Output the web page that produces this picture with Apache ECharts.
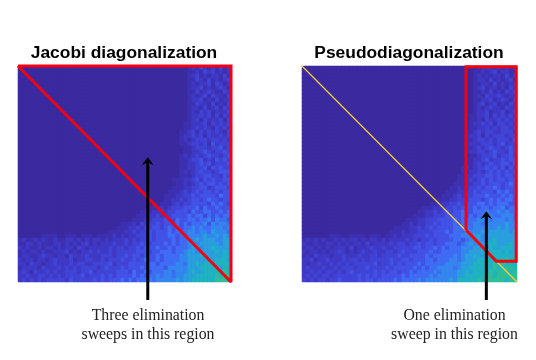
<!DOCTYPE html>
<html>
<head>
<meta charset="utf-8">
<style>html,body{margin:0;background:#fff;}#main{width:536px;height:360px;}</style>
<script src="https://cdn.jsdelivr.net/npm/echarts@6/dist/echarts.min.js"></script>
</head>
<body>
<div id="main"></div>
<script>
// matrix magnitudes, 0-9. Rows are right aligned, missing cells on the left are 0
var jacobiRows = [
'012132121312','011213231212','012312122131','011321312123','012122313212','012231212321',
'011312321132','012123132213','012231213122','011322131213','012213123132','012132312223',
'0012232313132','0012313222313','0112223132323','0112323213232',
'01123132323213','01223231322323','01212333233232','01123323142333','00112333233423',
'00112234323343','01212323433234','01123342324343','01122343423334',
'001122334243433','001212343323444','001112334433243','0111223424343344','0011212343443434',
'00111223344234443','001112323434434344','0011122334344443544','00011223234434544344',
'000111232334444354543','00111212333444535445444','0011122323344435445544545',
'00111223233444454553545455','001112233344354455455646554','01112132334344454545556465665',
'0011122323344345454556565566656','001111223233434445455566566576665',
'000000111100111011101111212122333434445545566667667676',
'121121211211221212122121222323233434444545566767776677',
'112212111221212123121222322323343344454545567677777677',
'212112122121221321222223233233434445445455567767787777',
'121221211222312122323223233333444344555455677677778787',
'122112322122132223222333233434434445455556677787777787',
'212212212322231223322323334334345445455556677777878887',
'221322122322232332233334233344444554555566577878878888',
'122221322232323233332343334344454555546666677788888788',
'232132232322333233423333344435445455566566678778888898',
'223223323232333342333434344445454556566566777888889899',
'232323233333243333343434445454555656666676778888889998'
];
var pseudoRows = [
'001122121212','011212312211','012121221312','012213121231','011221312122','012312212132',
'011213121323','012132232122','011223123213','012312312132','012123221322','012231223123',
'0112231323232','0112132232323','0122323133232','0112232323323',
'01123233223332','01223132333233','01123323233324','01222333234233','01123234332343',
'01223323433243','00112333423343','01122342334344','001123234334434',
'0012123343434243','0011223234343434','00112233344343443','000112323434344344','001112233434443454',
'0011212334344543444','00111223343444354544','001112323344454445454','0011122333444345454554',
'001112233434445545455544','00111222334344454554556455','001122323434454455565565655',
'0011122333444454545566556665','001112233344445455556665666565','0011212233434445455566566666766',
'01111223234344445556566676676766','0011121223333444545556666767777767',
'000000011100111101110112122233343444455566677677777777',
'121212112121221212212122223232334344445545667677877777',
'211211221212122131222232332334344344555456767778877787',
'122121212221312223223223333344344545455566677878778887',
'212212122321212322322332343334445445555566777878887878',
'121322212232223223323333433444454555556567787788888888',
'223122322232332323333343344344455455566567778888888988',
'212232232323233333423343434445455555666677788888989888',
'232223223233323343333434444454545566665677888888988998',
'223232332323433333434344344545555656666778788889899989',
'232323323333334343434444454555556566666778888899899999',
'323233233433334344344445455556566666676888889899999899'
];
var matrixSize = 54;
var jacobiOutline = [[0, 0], [54, 0], [54, 54], [0, 0]];
var pseudoOutline = [[41.2, 41], [41.2, 0.2], [53.8, 0.2], [53.8, 48.8], [48.8, 48.8], [41.2, 41]];
var pseudoDiagonal = [[0, 0], [54, 54]];
var jacobiArrow = [[32.9, 58.5], [32.9, 23.8]];
var pseudoArrow = [[46.3, 58.5], [46.3, 37.3]];
var parula = ['#3b2a9f', '#3d30b0', '#3f38c4', '#4044d6', '#4252e6', '#3f6cf4', '#3486ef', '#2a9fdf', '#1fb3c2', '#2fbc98'];

function toCells(rows) {
    var cells = [];
    rows.forEach(function (row, y) {
        var full = row.padStart(matrixSize, '0').slice(-matrixSize);
        for (var x = 0; x < matrixSize; x++) {
            cells.push([x, y, +full[x]]);
        }
    });
    return cells;
}

function arrowData(points) {
    return [
        { value: points[0], symbol: 'none' },
        { value: points[1], symbol: 'path://M6 0L12 7L6 4.5L0 7Z', symbolSize: [12, 8] }
    ];
}

var categories = [];
for (var i = 0; i < matrixSize; i++) categories.push(String(i));

function panelAxes(gridIndex) {
    return {
        x: [
            { type: 'category', gridIndex: gridIndex, data: categories, show: false },
            { type: 'value', gridIndex: gridIndex, min: 0, max: matrixSize, show: false }
        ],
        y: [
            { type: 'category', gridIndex: gridIndex, data: categories, inverse: true, show: false },
            { type: 'value', gridIndex: gridIndex, min: 0, max: matrixSize, inverse: true, show: false }
        ]
    };
}
var leftAxes = panelAxes(0);
var rightAxes = panelAxes(1);

function titleText(text, center, top) {
    return {
        text: text, left: center, top: top, textAlign: 'center', padding: 0,
        textStyle: { fontFamily: 'Liberation Sans', fontSize: 17.4, fontWeight: 'bold', color: '#000' }
    };
}
function noteText(text, center, top) {
    return {
        text: text, left: center, top: top, textAlign: 'center', padding: 0,
        textStyle: { fontFamily: 'Liberation Serif', fontSize: 15.8, fontWeight: 'normal', color: '#222', lineHeight: 19, align: 'center' }
    };
}
function outline(points, xi, yi, color, width) {
    return {
        type: 'line', xAxisIndex: xi, yAxisIndex: yi, data: points, symbol: 'none', clip: false,
        lineStyle: { color: color, width: width, join: 'miter', miterLimit: 2 }, silent: true, z: 5
    };
}
function arrow(points, xi, yi) {
    return {
        type: 'line', xAxisIndex: xi, yAxisIndex: yi, data: arrowData(points), clip: false, showSymbol: true,
        lineStyle: { color: '#000', width: 3 }, itemStyle: { color: '#000' }, silent: true, z: 6
    };
}

var chart = echarts.init(document.getElementById('main'));
var option = {
    animation: false,
    backgroundColor: '#fff',
    title: [
        titleText('Jacobi diagonalization', 124, 45),
        titleText('Pseudodiagonalization', 409, 45),
        noteText('Three elimination\nsweeps in this region', 148, 306),
        noteText('One elimination\nsweep in this region', 454.5, 306)
    ],
    grid: [
        { left: 18, top: 66, width: 213, height: 216, show: true, backgroundColor: parula[0], borderWidth: 0 },
        { left: 302, top: 66, width: 215, height: 216, show: true, backgroundColor: parula[0], borderWidth: 0 }
    ],
    xAxis: leftAxes.x.concat(rightAxes.x),
    yAxis: leftAxes.y.concat(rightAxes.y),
    visualMap: {
        show: false, type: 'continuous', min: 0, max: 9, seriesIndex: [0, 1],
        dimension: 2, inRange: { color: parula }
    },
    series: [
        { type: 'heatmap', xAxisIndex: 0, yAxisIndex: 0, data: toCells(jacobiRows), silent: true, progressive: 0 },
        { type: 'heatmap', xAxisIndex: 2, yAxisIndex: 2, data: toCells(pseudoRows), silent: true, progressive: 0 },
        outline(jacobiOutline, 1, 1, '#f5000f', 3),
        outline(pseudoDiagonal, 3, 3, '#f7d23a', 1.2),
        outline(pseudoOutline, 3, 3, '#f5000f', 3),
        arrow(jacobiArrow, 1, 1),
        arrow(pseudoArrow, 3, 3)
    ]
};
chart.setOption(option);
</script>
</body>
</html>
